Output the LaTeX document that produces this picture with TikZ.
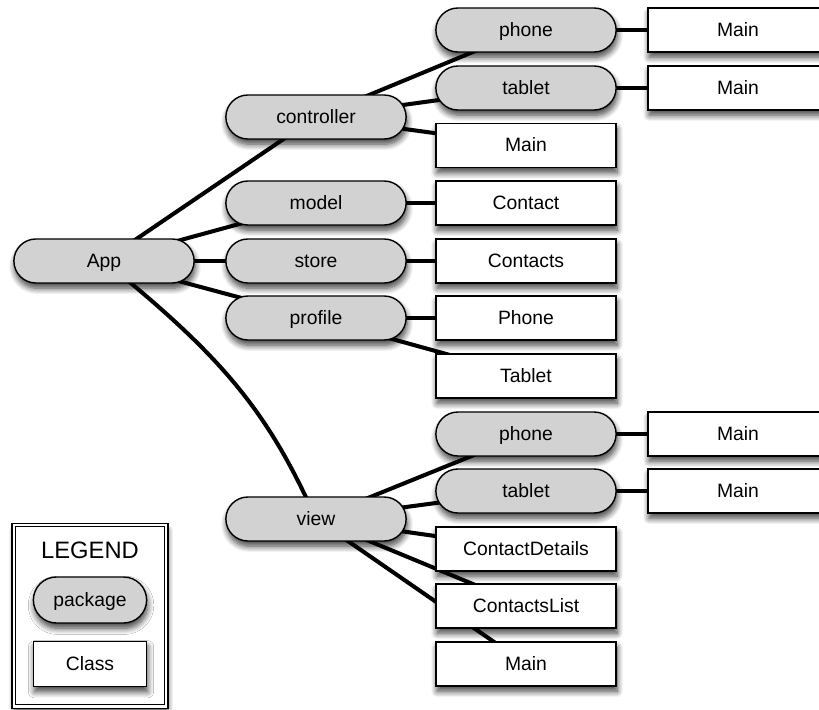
\documentclass[tikz,border=0pt]{standalone}
\usepackage{fontspec}
\setmainfont{Liberation Sans}
\usepackage{tikz}
\usetikzlibrary{shapes.misc, shadows.blur, backgrounds}

\definecolor{pkggray}{RGB}{210,210,210}

\begin{document}
\begin{tikzpicture}[
  x=0.02cm, y=-0.02cm,
  font=\fontsize{11}{13}\selectfont,
  softshadow/.style={blur shadow={shadow xshift=0.6pt, shadow yshift=-3pt, shadow blur radius=3.5pt, shadow blur steps=8, shadow opacity=75}},
  link/.style={line width=2.3pt},
  pkg/.style={rounded rectangle, draw, fill=pkggray, line width=0.8pt, minimum width=3.84cm, minimum height=0.88cm,
    text height=0.72em, text depth=0pt, softshadow},
  cls/.style={rectangle, draw, fill=white, line width=0.8pt, minimum width=3.6cm, minimum height=0.88cm,
    text height=0.72em, text depth=0pt, softshadow}
]
  \useasboundingbox (0,0) rectangle (819,710);

  % Root and first level packages
  \node (app) [pkg] at (104,261) {App};
  \node (controller) [pkg] at (316,117) {controller};
  \node (model) [pkg] at (316,203) {model};
  \node (store) [pkg] at (316,261) {store};
  \node (profile) [pkg] at (316,318) {profile};
  \node (view) [pkg] at (316,519) {view};

  % Second column
  \node (ctrlphone) [pkg] at (526,30) {phone};
  \node (ctrltablet) [pkg] at (526,88) {tablet};
  \node (ctrlmain) [cls] at (526,145.5) {Main};
  \node (contact) [cls] at (526,203) {Contact};
  \node (contacts) [cls] at (526,261) {Contacts};
  \node (profphone) [cls] at (526,318) {Phone};
  \node (proftablet) [cls] at (526,376) {Tablet};
  \node (viewphone) [pkg] at (526,434) {phone};
  \node (viewtablet) [pkg] at (526,491) {tablet};
  \node (details) [cls] at (526,549) {ContactDetails};
  \node (list) [cls] at (526,606) {ContactsList};
  \node (viewmain) [cls] at (526,664) {Main};

  % Third column (cut by the page edge)
  \node (ctrlphonemain) [cls] at (738,30) {Main};
  \node (ctrltabletmain) [cls] at (738,88) {Main};
  \node (viewphonemain) [cls] at (738,434) {Main};
  \node (viewtabletmain) [cls] at (738,491) {Main};

  % Legend
  \node (legend) [draw, double, double distance=1.4pt, line width=0.7pt, fill=white, inner sep=0pt,
    minimum width=3.05cm, minimum height=3.63cm, softshadow] at (90,615.7) {};
  \node (legendtitle) [font=\fontsize{13.5}{15}\selectfont] at (90,550) {LEGEND};
  \node (legendpkg) [pkg, minimum width=2.5cm, minimum height=0.92cm] at (90,600) {package};
  \node (legendcls) [cls, minimum width=2.26cm, minimum height=0.9cm] at (90,664) {Class};

  % Connectors, kept behind the boxes
  \begin{pgfonlayer}{background}
    \draw[link] (app.center) -- (controller.center);
    \draw[link] (app.center) -- (model.center);
    \draw[link] (app.center) -- (store.center);
    \draw[link] (app.center) -- (profile.center);
    \draw[link] (app.center) to[out=-39, in=114, out distance=3cm, in distance=2.4cm] (view.center);

    \draw[link] (controller.center) -- (ctrlphone.center);
    \draw[link] (controller.center) -- (ctrltablet.center);
    \draw[link] (controller.center) -- (ctrlmain.center);
    \draw[link] (ctrlphone.center) -- (ctrlphonemain.center);
    \draw[link] (ctrltablet.center) -- (ctrltabletmain.center);

    \draw[link] (model.center) -- (contact.center);
    \draw[link] (store.center) -- (contacts.center);
    \draw[link] (profile.center) -- (profphone.center);
    \draw[link] (profile.center) -- (proftablet.center);

    \draw[link] (view.center) -- (viewphone.center);
    \draw[link] (view.center) -- (viewtablet.center);
    \draw[link] (view.center) -- (details.center);
    \draw[link] (view.center) -- (list.center);
    \draw[link] (view.center) -- (viewmain.center);
    \draw[link] (viewphone.center) -- (viewphonemain.center);
    \draw[link] (viewtablet.center) -- (viewtabletmain.center);
  \end{pgfonlayer}

\end{tikzpicture}
\end{document}
